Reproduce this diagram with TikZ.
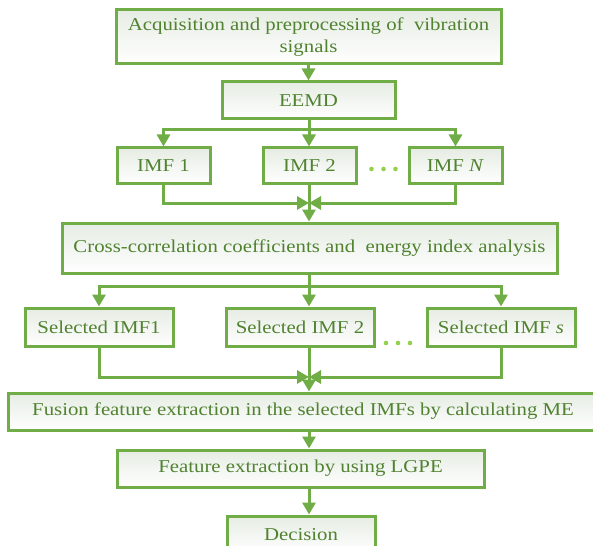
\documentclass[tikz,border=0pt]{standalone}
\usepackage{fontspec}
\setmainfont{Liberation Serif}[FakeStretch=1.15]
\usetikzlibrary{arrows.meta,positioning}
\definecolor{boxgreen}{RGB}{112,173,71}
\definecolor{txtgreen}{RGB}{80,130,48}
\definecolor{dotgreen}{RGB}{146,208,80}
\definecolor{boxtop}{RGB}{230,236,227}

\tikzset{
  stage/.style={draw=boxgreen,line width=3pt,top color=boxtop,bottom color=white,
    text=txtgreen,inner sep=0pt,minimum height=37pt,align=center,
    font=\fontsize{18.1}{22}\selectfont},
  link/.style={draw=boxgreen,line width=3pt},
  flow/.style={link,-{Triangle[width=13pt,length=12pt]}},
}

\begin{document}
\begin{tikzpicture}[x=1pt,y=-1pt]
\useasboundingbox (0,0) rectangle (593,545);
\coordinate (trunk) at (309,0);

\node[stage,minimum width=385pt,minimum height=54pt] (acq) at (308.5,37) {Acquisition and preprocessing of\ \ vibration\\signals};
\node[stage,minimum width=173pt] (eemd) at (308.5,100.5) {EEMD};
\foreach \lab/\x [count=\n] in {IMF 1/163.5,IMF 2/309.5,IMF \textit{N}/455.5}
  \node[stage,minimum width=93pt,minimum height=36pt] (imf\n) at (\x,166) {\lab};
\node (dotsA) at (383.5,169) {};

\node[stage,minimum width=495pt,minimum height=50pt] (cross) at (309.5,248) {Cross-correlation coefficients and\ \ energy index analysis};
\foreach \lab/\x [count=\n] in {Selected IMF1/99,Selected IMF 2/300,Selected IMF \textit{s}/501}
  \node[stage,minimum width=148pt,minimum height=38pt] (sel\n) at (\x,327) {\lab};
\node (dotsB) at (398,343) {};

\node[stage,minimum width=590pt] (fusion) at (303,411.5) {Fusion feature extraction in the selected IMFs by calculating ME};
\node[stage,minimum width=367pt] (lgpe) at (300.5,468.5) {Feature extraction by using LGPE};
\node[stage,minimum width=148pt] (dec) at (301,534.5) {Decision};

% dots between the boxes
\foreach \d in {-12,0,12} {
  \fill[dotgreen] (dotsA) ++(\d,0) circle (2.3pt);
  \fill[dotgreen] (dotsB) ++(\d,0) circle (2.3pt);
}

% EEMD into the IMFs
\coordinate (split1) at (309,130);
\coordinate (merge1) at (309,203);
\draw[flow] (acq) -- (eemd);
\draw[link] (eemd.south -| trunk) -- (split1);
\draw[flow] (split1) -| (imf1);
\draw[flow] (split1) -- (imf2.north -| trunk);
\draw[flow] (split1) -| (imf3);
\draw[flow] (imf1) |- (merge1);
\draw[flow] (imf3) |- (merge1);
\draw[flow] (imf2.south -| trunk) -- (cross.north -| trunk);

% selected IMFs
\coordinate (split2) at (309,286);
\coordinate (merge2) at (309,377);
\draw[link] (cross.south -| trunk) -- (split2);
\draw[flow] (split2) -| (sel1);
\draw[flow] (split2) -- (sel2.north -| trunk);
\draw[flow] (split2) -| (sel3);
\draw[flow] (sel1) |- (merge2);
\draw[flow] (sel3) |- (merge2);
\draw[flow] (sel2.south -| trunk) -- (fusion.north -| trunk);

\draw[flow] (fusion.south -| trunk) -- (lgpe.north -| trunk);
\draw[flow] (lgpe.south -| trunk) -- (dec.north -| trunk);
\end{tikzpicture}
\end{document}
